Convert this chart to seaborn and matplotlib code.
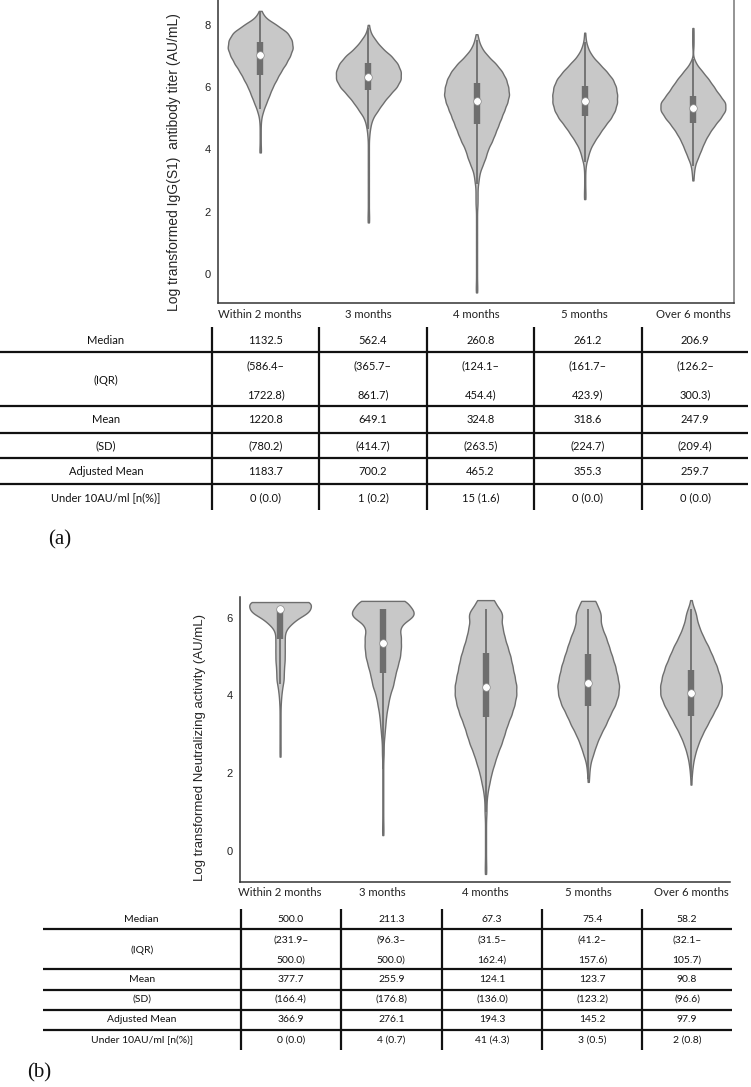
import numpy as np
import pandas as pd
import matplotlib
matplotlib.use("Agg")
import matplotlib.pyplot as plt
import seaborn as sns

# ---------------- data ----------------
groups = ["Within 2 months", "3 months", "4 months", "5 months", "Over 6 months"]
row_labels = ["Median", "(IQR)", "Mean", "(SD)", "Adjusted Mean", "Under 10AU/ml [n(%)]"]

# Panel (a): IgG(S1) summary table
a_median = [1132.5, 562.4, 260.8, 261.2, 206.9]
a_q1 = [586.4, 365.7, 124.1, 161.7, 126.2]
a_q3 = [1722.8, 861.7, 454.4, 423.9, 300.3]
a_mean = [1220.8, 649.1, 324.8, 318.6, 247.9]
a_sd = [780.2, 414.7, 263.5, 224.7, 209.4]
a_adj = [1183.7, 700.2, 465.2, 355.3, 259.7]
a_under_n = [0, 1, 15, 0, 0]
a_under_pct = [0.0, 0.2, 1.6, 0.0, 0.0]

# Panel (b): neutralizing activity summary table
b_median = [500.0, 211.3, 67.3, 75.4, 58.2]
b_q1 = [231.9, 96.3, 31.5, 41.2, 32.1]
b_q3 = [500.0, 500.0, 162.4, 157.6, 105.7]
b_mean = [377.7, 255.9, 124.1, 123.7, 90.8]
b_sd = [166.4, 176.8, 136.0, 123.2, 96.6]
b_adj = [366.9, 276.1, 194.3, 145.2, 97.9]
b_under_n = [0, 4, 41, 3, 2]
b_under_pct = [0.0, 0.7, 4.3, 0.5, 0.8]

# whisker (adjacent value) ends, log scale
a_whis_lo = [5.3, 4.65, 2.9, 3.6, 3.45]
a_whis_hi = [8.4, 7.9, 7.5, 7.45, 6.9]
b_whis_lo = [4.3, 2.1, 1.0, 1.85, 1.9]
b_whis_hi = [6.21, 6.21, 6.21, 6.21, 6.21]

# log-value histograms (value bins, counts)
a_w2_vals = [8.45, 8.25, 8.0, 7.75, 7.5, 7.25, 7.0, 6.75, 6.5, 6.25, 6.0, 5.75, 5.5, 5.25, 5.0, 4.75, 4.5, 4.25, 4.0, 3.9]
a_w2_cnts = [1, 8, 32, 54, 62, 64, 58, 50, 40, 32, 24, 18, 12, 6, 2, 1, 1, 1, 1, 1]
a_m3_vals = [8.0, 7.75, 7.5, 7.25, 7.0, 6.75, 6.5, 6.25, 6.0, 5.75, 5.5, 5.25, 5.0, 4.75, 4.5, 4.25, 4.0, 3.75, 3.5, 3.25,
             3.0, 2.75, 2.5, 2.25, 2.0, 1.8, 1.65]
a_m3_cnts = [1, 4, 14, 26, 44, 56, 62, 62, 54, 40, 28, 18, 8, 4, 2, 1, 1, 1, 1, 1,
             1, 1, 1, 1, 1, 1, 1]
a_m4_vals = [7.7, 7.5, 7.25, 7.0, 6.75, 6.5, 6.25, 6.0, 5.75, 5.5, 5.25, 5.0, 4.75, 4.5, 4.25, 4.0, 3.75, 3.5, 3.25, 3.0,
             2.75, 2.5, 2.25, 2.0, 1.75, 1.5, 1.25, 1.0, 0.75, 0.5, 0.25, 0.0, -0.25, -0.45, -0.6]
a_m4_cnts = [1, 4, 10, 22, 38, 50, 58, 62, 64, 60, 54, 48, 42, 36, 30, 22, 18, 12, 6, 4,
             2, 2, 2, 1, 1, 1, 1, 1, 1, 1, 1, 1, 1, 1, 1]
a_m5_vals = [7.75, 7.5, 7.25, 7.0, 6.75, 6.5, 6.25, 6.0, 5.75, 5.5, 5.25, 5.0, 4.75, 4.5, 4.25, 4.0, 3.75, 3.5, 3.25, 3.0, 2.75, 2.55, 2.4]
a_m5_cnts = [1, 2, 6, 14, 28, 42, 54, 60, 62, 62, 58, 50, 38, 28, 18, 10, 6, 2, 1, 1, 1, 1, 1]
a_m6_vals = [7.9, 7.7, 7.5, 7.3, 6.75, 6.5, 6.25, 6.0, 5.75, 5.5, 5.25, 5.0, 4.75, 4.5, 4.25, 4.0, 3.75, 3.5, 3.25, 3.0]
a_m6_cnts = [1, 1, 1, 1, 6, 18, 30, 40, 50, 62, 62, 52, 40, 30, 22, 16, 10, 4, 2, 1]

b_w2_vals = [6.4, 6.15, 5.9, 5.65, 5.4, 5.15, 4.9, 4.65, 4.4, 4.15, 3.9, 3.65, 3.4, 3.15, 2.9, 2.65, 2.42]
b_w2_cnts = [72, 64, 28, 10, 10, 10, 10, 8, 8, 4, 2, 1, 1, 1, 1, 1, 1]
b_m3_vals = [6.43, 6.2, 6.0, 5.75, 5.5, 5.25, 5.0, 4.75, 4.5, 4.25, 4.0, 3.75, 3.5, 3.25, 3.0, 2.75, 2.5,
             2.25, 2.0, 1.75, 1.5, 1.25, 1.0, 0.75, 0.55, 0.4]
b_m3_cnts = [54, 60, 62, 38, 42, 42, 40, 34, 28, 24, 16, 12, 8, 6, 4, 2, 2,
             1, 1, 1, 1, 1, 1, 1, 1, 1]
b_m4_vals = [6.45, 6.2, 6.0, 5.75, 5.5, 5.25, 5.0, 4.75, 4.5, 4.25, 4.0, 3.75, 3.5, 3.25, 3.0, 2.75, 2.5, 2.25, 2.0,
             1.75, 1.5, 1.25, 1.0, 0.75, 0.5, 0.25, 0.0, -0.25, -0.45, -0.6]
b_m4_cnts = [18, 26, 30, 34, 38, 44, 50, 54, 58, 62, 62, 58, 52, 44, 38, 32, 24, 18, 12,
             8, 4, 2, 2, 1, 1, 1, 1, 1, 1, 1]
b_m5_vals = [6.43, 6.2, 6.0, 5.75, 5.5, 5.25, 5.0, 4.75, 4.5, 4.25, 4.0, 3.75, 3.5, 3.25, 3.0, 2.75, 2.5, 2.25, 2.0, 1.77]
b_m5_cnts = [14, 18, 22, 26, 34, 40, 46, 52, 56, 60, 58, 52, 42, 34, 24, 16, 10, 4, 2, 1]
b_m6_vals = [6.45, 6.2, 6.0, 5.75, 5.5, 5.25, 5.0, 4.75, 4.5, 4.25, 4.0, 3.75, 3.5, 3.25, 3.0, 2.75, 2.5, 2.25, 2.0, 1.7]
b_m6_cnts = [1, 6, 10, 16, 24, 34, 42, 50, 56, 60, 60, 52, 42, 32, 22, 14, 8, 4, 2, 1]

a_bins = [(a_w2_vals, a_w2_cnts), (a_m3_vals, a_m3_cnts), (a_m4_vals, a_m4_cnts),
          (a_m5_vals, a_m5_cnts), (a_m6_vals, a_m6_cnts)]
b_bins = [(b_w2_vals, b_w2_cnts), (b_m3_vals, b_m3_cnts), (b_m4_vals, b_m4_cnts),
          (b_m5_vals, b_m5_cnts), (b_m6_vals, b_m6_cnts)]


def long_df(bins):
    parts = []
    for g, (vals, cnts) in zip(groups, bins):
        parts.append(pd.DataFrame({"group": g, "value": np.repeat(vals, cnts)}))
    return pd.concat(parts, ignore_index=True)


df_a = long_df(a_bins)
df_b = long_df(b_bins)

# ---------------- style ----------------
sns.set_theme(style="white")
plt.rcParams["font.family"] = ["Liberation Sans", "DejaVu Sans"]

W, H = 751, 1087
fig = plt.figure(figsize=(W / 100, H / 100), dpi=100)

FILL = "#c8c8c8"
EDGE = "#6e6e6e"
BOX = "#6e6e6e"
BW = 0.14


def bw_fn(k):
    return BW / k.dataset.std(ddof=1)


def px_axes(left, top, right, bottom):
    return fig.add_axes([left / W, 1 - bottom / H, (right - left) / W, (bottom - top) / H])


def violin_panel(ax, df, med, q1, q3, wlo, whi, ylim, ylabel, ylab_fs, ylab_pos, xlim, right_spine):
    sns.violinplot(data=df, x="group", y="value", order=groups, ax=ax,
                   color=FILL, saturation=1, linecolor=EDGE, linewidth=1.0,
                   inner=None, cut=0, density_norm="width", width=0.6,
                   bw_method=bw_fn, gridsize=200)
    pos = np.arange(len(groups))
    ax.vlines(pos, wlo, whi, color=BOX, lw=1.3, zorder=3)
    ax.vlines(pos, np.log(q1), np.log(q3), color=BOX, lw=4.6, zorder=4)
    ax.scatter(pos, np.log(med), s=30, color="white", edgecolors="#8a8a8a",
               linewidths=0.5, zorder=5)
    ax.set_xlim(*xlim)
    ax.set_ylim(*ylim)
    ax.set_xlabel("")
    ax.set_ylabel(ylabel, fontsize=ylab_fs)
    ax.yaxis.set_label_coords(*ylab_pos)
    ax.set_yticks([0, 2, 4, 6, 8] if ylim[1] > 8 else [0, 2, 4, 6])
    ax.tick_params(axis="y", direction="out", length=3, width=0.8, labelsize=8,
                   color="#333333", pad=2, labelcolor="#222222")
    ax.tick_params(axis="x", length=0, pad=4)
    for lab in ax.get_xticklabels():
        lab.set_family(["Lato", "DejaVu Sans"])
        lab.set_fontsize(8.2)
        lab.set_color("#222222")
    ax.spines["top"].set_visible(False)
    ax.spines["right"].set_visible(right_spine)
    for s in ["left", "bottom", "right"]:
        ax.spines[s].set_color("#333333")
        ax.spines[s].set_linewidth(1.1)
    ax.spines["right"].set_color("#777777")
    ax.set_facecolor("none")


ax_a = px_axes(218, 0, 734, 303)
violin_panel(ax_a, df_a, a_median, a_q1, a_q3, a_whis_lo, a_whis_hi,
             (-0.94, 8.8), "Log transformed IgG(S1)  antibody titer (AU/mL)", 10,
             (-0.072, 0.465), (-0.39, 4.38), True)

ax_b = px_axes(240, 597, 730, 881.7)
violin_panel(ax_b, df_b, b_median, b_q1, b_q3, b_whis_lo, b_whis_hi,
             (-0.8, 6.53), "Log transformed Neutralizing activity (AU/mL)", 9.5,
             (-0.07, 0.47), (-0.39, 4.38), False)

# ---------------- tables ----------------
tax = fig.add_axes([0, 0, 1, 1], zorder=-1)
tax.set_xlim(0, W)
tax.set_ylim(H, 0)
tax.axis("off")

TFONT = ["Lato", "DejaVu Sans"]


def table_cells(med, q1, q3, mean, sd, adj, un, up):
    return [
        [f"{v:.1f}" for v in med],
        [f"({v:.1f}\u2013" for v in q1],
        [f"{v:.1f})" for v in q3],
        [f"{v:.1f}" for v in mean],
        [f"({v:.1f})" for v in sd],
        [f"{v:.1f}" for v in adj],
        [f"{n} ({p:.1f})" for n, p in zip(un, up)],
    ]


def draw_table(cells, x0, x1, vlines_x, y_top, y_bot, hlines_y, text_y, label_y, fs):
    for y in hlines_y:
        tax.plot([x0, x1], [y, y], color="#111111", lw=1.6, solid_capstyle="butt")
    for x in vlines_x:
        tax.plot([x, x], [y_top, y_bot], color="#111111", lw=1.6, solid_capstyle="butt")
    edges = list(vlines_x) + [x1]
    centers = [(edges[i] + edges[i + 1]) / 2 for i in range(len(groups))]
    lab_c = (x0 + vlines_x[0]) / 2
    for lab, y in zip(row_labels, label_y):
        tax.text(lab_c, y, lab, ha="center", va="center", fontsize=fs,
                 family=TFONT, color="#111111")
    for row, y in zip(cells, text_y):
        for c, t in zip(centers, row):
            tax.text(c, y, t, ha="center", va="center", fontsize=fs,
                     family=TFONT, color="#111111")


cells_a = table_cells(a_median, a_q1, a_q3, a_mean, a_sd, a_adj, a_under_n, a_under_pct)
draw_table(cells_a, 0, 748, [212, 319, 427, 534, 642], 327, 510,
           [352.3, 406, 432.7, 458.3, 484.3],
           [340, 366, 395, 419.5, 445.5, 471.3, 497.3],
           [340, 380, 419.5, 445.5, 471.3, 497.3], 8)

cells_b = table_cells(b_median, b_q1, b_q3, b_mean, b_sd, b_adj, b_under_n, b_under_pct)
draw_table(cells_b, 42.7, 732, [240.7, 341, 441.7, 542.3, 642.3], 909, 1050,
           [929.3, 969.3, 989.5, 1009.5, 1029.5],
           [919, 940, 960, 979.5, 999.5, 1019.5, 1040],
           [919, 950, 979.5, 999.5, 1019.5, 1040], 7.5)

tax.text(60, 540, "(a)", ha="center", va="center", fontsize=15,
         family=["Liberation Serif", "DejaVu Serif"], color="#111111")
tax.text(39, 1073, "(b)", ha="center", va="center", fontsize=15,
         family=["Liberation Serif", "DejaVu Serif"], color="#111111")

fig.savefig("out.png", dpi=100)
